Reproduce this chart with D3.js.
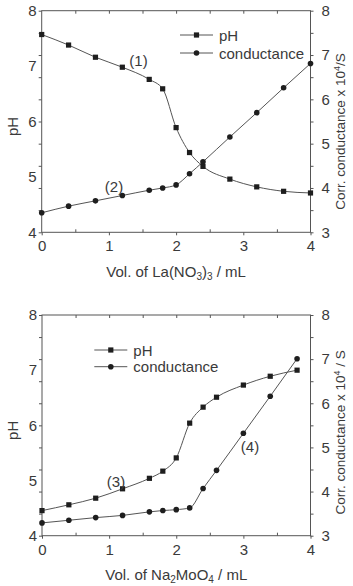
<!DOCTYPE html>
<html>
<head>
<meta charset="utf-8">
<script src="https://cdn.jsdelivr.net/npm/d3@7"></script>
<style>
  html, body { margin: 0; padding: 0; background: #fff; }
  text { font-family: "Liberation Sans", Arial, sans-serif; fill: #3a3a3a; }
</style>
</head>
<body>
<div id="chart"></div>
<script>
// titration curves: pH (squares) and corrected conductance (circles)

// top panel: La(NO3)3
const volTop = [0, 0.4, 0.8, 1.2, 1.6, 1.8, 2.0, 2.2, 2.4, 2.8, 3.2, 3.6, 4.0];
const phTop = [7.57, 7.38, 7.16, 6.98, 6.76, 6.59, 5.89, 5.44, 5.19, 4.96, 4.82, 4.74, 4.71];
const condTop = [3.44, 3.59, 3.71, 3.83, 3.95, 4.00, 4.07, 4.32, 4.59, 5.15, 5.70, 6.26, 6.81];

// bottom panel: Na2MoO4
const volBottom = [0, 0.4, 0.8, 1.2, 1.6, 1.8, 2.0, 2.2, 2.4, 2.6, 3.0, 3.4, 3.8];
const phBottom = [4.455, 4.56, 4.68, 4.85, 5.04, 5.17, 5.41, 6.04, 6.33, 6.51, 6.73, 6.89, 7.00];
const condBottom = [3.29, 3.35, 3.41, 3.46, 3.54, 3.57, 3.59, 3.63, 4.07, 4.48, 5.32, 6.16, 7.01];

// ticks
const xMajorTicks = [0, 1, 2, 3, 4];
const xMinorTicks = [0.5, 1.5, 2.5, 3.5];
const xTopTicks = [0.5, 1, 1.5, 2, 2.5, 3, 3.5];
const phLabels = [4, 5, 6, 7, 8];
const phTickMarks = [4, 4.4, 4.8, 5.2, 5.6, 6, 6.4, 6.8, 7.2, 7.6, 8];
const condTicks = [3, 3.5, 4, 4.5, 5, 5.5, 6, 6.5, 7, 7.5, 8];

const W = 353, H = 586;
const svg = d3.select("#chart").append("svg")
    .attr("width", W)
    .attr("height", H)
    .style("display", "block");

function drawPanel(cfg) {
    const g = svg.append("g");
    const x = d3.scaleLinear().domain([0, 4]).range([cfg.left, cfg.right]);
    const yL = d3.scaleLinear().domain([4, 8]).range([cfg.bottom, cfg.top]);
    const yR = d3.scaleLinear().domain([3, 8]).range([cfg.bottom, cfg.top]);
    const axisColor = "#555";

    function style(sel) {
        sel.select(".domain").remove();
        sel.selectAll("line").attr("stroke", axisColor).attr("stroke-width", 1);
        sel.selectAll("text").style("font-size", "15px").attr("fill", "#3a3a3a");
    }

    // bottom axis: majors outward with labels
    g.append("g").attr("transform", `translate(0,${cfg.bottom})`)
        .call(d3.axisBottom(x).tickValues(xMajorTicks).tickSize(3).tickFormat(d3.format("d")))
        .call(style)
        .selectAll("text").attr("y", 19).attr("dy", null);
    // bottom minors inward
    g.append("g").attr("transform", `translate(0,${cfg.bottom})`)
        .call(d3.axisTop(x).tickValues(xMinorTicks).tickSize(3).tickFormat(""))
        .call(style);
    // top ticks inward
    g.append("g").attr("transform", `translate(0,${cfg.top})`)
        .call(d3.axisBottom(x).tickValues(xTopTicks).tickSize(3).tickFormat(""))
        .call(style);
    // left ticks
    g.append("g").attr("transform", `translate(${cfg.left},0)`)
        .call(d3.axisLeft(yL).tickValues(phTickMarks).tickSize(3).tickFormat(""))
        .call(style);
    g.append("g").attr("transform", `translate(${cfg.left},0)`)
        .call(d3.axisLeft(yL).tickValues(phLabels).tickSize(0).tickPadding(5).tickFormat(d3.format("d")))
        .call(style);
    // right axis
    g.append("g").attr("transform", `translate(${cfg.right},0)`)
        .call(d3.axisRight(yR).tickValues(condTicks).tickSize(3).tickPadding(8)
            .tickFormat(d => Number.isInteger(d) ? d : ""))
        .call(style);

    // frame
    g.append("rect")
        .attr("x", cfg.left).attr("y", cfg.top)
        .attr("width", cfg.right - cfg.left).attr("height", cfg.bottom - cfg.top)
        .attr("fill", "none").attr("stroke", axisColor).attr("stroke-width", 1);

    // series
    const phPts = cfg.vol.map((v, i) => [v, cfg.ph[i]]);
    const condPts = cfg.volC.map((v, i) => [v, cfg.cond[i]]);

    const linePh = d3.line().x(d => x(d[0])).y(d => yL(d[1])).curve(d3.curveMonotoneX);
    const lineCond = d3.line().x(d => x(d[0])).y(d => yR(d[1])).curve(d3.curveMonotoneX);

    g.append("path").attr("d", linePh(phPts))
        .attr("fill", "none").attr("stroke", "#555").attr("stroke-width", 1);
    g.append("path").attr("d", lineCond(condPts))
        .attr("fill", "none").attr("stroke", "#555").attr("stroke-width", 1);

    g.selectAll(".sq").data(phPts).enter().append("rect")
        .attr("x", d => x(d[0]) - 2.6).attr("y", d => yL(d[1]) - 2.6)
        .attr("width", 5.2).attr("height", 5.2)
        .attr("fill", "#1e1e1e");
    g.selectAll(".ci").data(condPts).enter().append("circle")
        .attr("cx", d => x(d[0])).attr("cy", d => yR(d[1]))
        .attr("r", 2.8)
        .attr("fill", "#1e1e1e");

    // legend
    const lg = cfg.legend;
    [["pH", "sq"], ["conductance", "ci"]].forEach((item, i) => {
        const yy = lg.y + i * lg.dy;
        g.append("line").attr("x1", lg.x).attr("x2", lg.x + 33)
            .attr("y1", yy).attr("y2", yy)
            .attr("stroke", "#555").attr("stroke-width", 1);
        if (item[1] === "sq") {
            g.append("rect").attr("x", lg.x + 16.5 - 2.6).attr("y", yy - 2.6)
                .attr("width", 5.2).attr("height", 5.2).attr("fill", "#1e1e1e");
        } else {
            g.append("circle").attr("cx", lg.x + 16.5).attr("cy", yy).attr("r", 2.8).attr("fill", "#1e1e1e");
        }
        g.append("text").attr("x", lg.x + 39).attr("y", yy + 5.5)
            .style("font-size", "15px").text(item[0]);
    });

    // curve labels
    cfg.notes.forEach(n => {
        g.append("text").attr("x", n.x).attr("y", n.y)
            .attr("text-anchor", "middle")
            .style("font-size", "15px").text(n.t);
    });

    // y titles
    g.append("text")
        .attr("transform", `translate(18,${(cfg.top + cfg.bottom) / 2 + 5}) rotate(-90)`)
        .attr("text-anchor", "middle")
        .style("font-size", "15px").text("pH");

    const rt = g.append("text")
        .attr("transform", `translate(344.5,${(cfg.top + cfg.bottom) / 2 + cfg.rOff}) rotate(-90)`)
        .attr("text-anchor", "middle")
        .style("font-size", "13.5px");
    rt.append("tspan").text("Corr. conductance x 10");
    rt.append("tspan").attr("dy", -5).style("font-size", "9px").text("4");
    rt.append("tspan").attr("dy", 5).text(cfg.rUnit);

    // x title
    const xt = g.append("text")
        .attr("x", (cfg.left + cfg.right) / 2).attr("y", cfg.bottom + 44.5)
        .attr("text-anchor", "middle")
        .style("font-size", "15px");
    cfg.xTitle.forEach(p => {
        const t = xt.append("tspan").text(p[0]);
        if (p[1] === "sub") t.attr("dy", 3).style("font-size", "10px");
        if (p[1] === "back") t.attr("dy", -3);
    });
}

drawPanel({
    left: 41.7, right: 310.5, top: 10.7, bottom: 232.3,
    vol: volTop, ph: phTop, volC: volTop, cond: condTop,
    legend: { x: 180, y: 35, dy: 18 },
    notes: [{ x: 138.5, y: 66, t: "(1)" }, { x: 114, y: 192, t: "(2)" }],
    rUnit: "/S", rOff: 10,
    xTitle: [["Vol. of La(NO"], ["3", "sub"], [")", "back"], ["3", "sub"], [" / mL", "back"]]
});

drawPanel({
    left: 42, right: 310.5, top: 315, bottom: 535.7,
    vol: volBottom, ph: phBottom, volC: volBottom, cond: condBottom,
    legend: { x: 94.3, y: 350, dy: 16.7 },
    notes: [{ x: 116, y: 487, t: "(3)" }, { x: 250, y: 452, t: "(4)" }],
    rUnit: " / S", rOff: 7,
    xTitle: [["Vol. of Na"], ["2", "sub"], ["MoO", "back"], ["4", "sub"], [" / mL", "back"]]
});
</script>
</body>
</html>
